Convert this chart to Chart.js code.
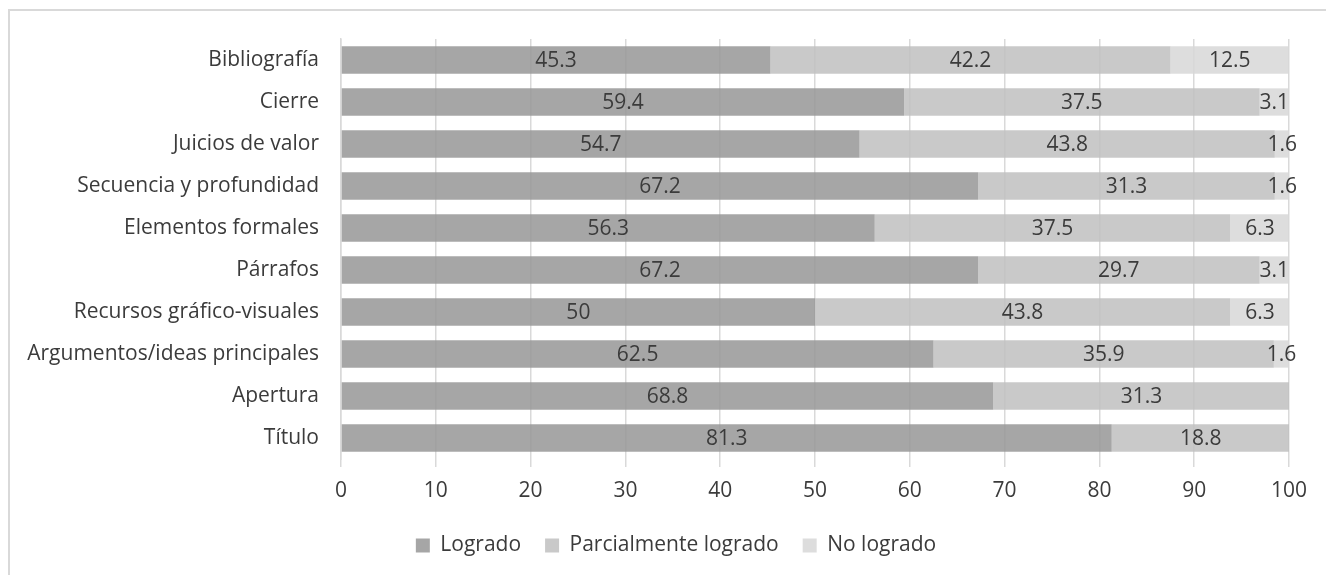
<!DOCTYPE html>
<html>
<head>
<meta charset="utf-8">
<script src="https://cdn.jsdelivr.net/npm/chart.js@4.4.1/dist/chart.umd.min.js"></script>
<style>
  html, body { margin: 0; padding: 0; background: #ffffff; overflow: hidden; }
  #wrap { position: relative; width: 1326px; height: 575px; }
  #frame { position: absolute; left: 8px; top: 9px; width: 1340px; height: 600px;
           border: 2px solid #d9d9d9; box-sizing: border-box; }
  canvas { position: absolute; left: 0; top: 0; }
</style>
</head>
<body>
<div id="wrap">
  <div id="frame"></div>
  <canvas id="chart" width="1326" height="575"></canvas>
</div>
<script>
// Categories, top to bottom
const categories = [
  'Bibliografía',
  'Cierre',
  'Juicios de valor',
  'Secuencia y profundidad',
  'Elementos formales',
  'Párrafos',
  'Recursos gráfico-visuales',
  'Argumentos/ideas principales',
  'Apertura',
  'Título'
];

// Percentages per category
const logrado =      [45.3, 59.4, 54.7, 67.2, 56.3, 67.2, 50,   62.5, 68.8, 81.3];
const parcialmente = [42.2, 37.5, 43.8, 31.3, 37.5, 29.7, 43.8, 35.9, 31.3, 18.8];
const noLogrado =    [12.5, 3.1,  1.6,  1.6,  6.3,  3.1,  6.3,  1.6,  0,    0];

const seriesNames = ['Logrado', 'Parcialmente logrado', 'No logrado'];
const xTicks = [0, 10, 20, 30, 40, 50, 60, 70, 80, 90, 100];

const FONT = '"Open Sans"';
const FS = 21;
const TEXT = '#3b3b3b';
const GRID = '#d9d9d9';

// Writes each segment's value in the middle of its bar
const valueLabels = {
  id: 'valueLabels',
  afterDatasetsDraw(chart) {
    const ctx = chart.ctx;
    ctx.save();
    ctx.font = FS + 'px ' + FONT;
    ctx.fillStyle = TEXT;
    ctx.textAlign = 'center';
    ctx.textBaseline = 'middle';
    chart.data.datasets.forEach((ds, i) => {
      const meta = chart.getDatasetMeta(i);
      meta.data.forEach((bar, j) => {
        const v = ds.data[j];
        if (!v) return;
        const cx = (bar.x + bar.base) / 2;
        ctx.fillText(String(v), cx, bar.y + 1);
      });
    });
    ctx.restore();
  }
};

const chart = new Chart(document.getElementById('chart'), {
  type: 'bar',
  data: {
    labels: categories,
    datasets: [
      { label: seriesNames[0], data: logrado,      backgroundColor: 'rgba(150,150,150,0.85)' },
      { label: seriesNames[1], data: parcialmente, backgroundColor: 'rgba(192,192,192,0.85)' },
      { label: seriesNames[2], data: noLogrado,    backgroundColor: 'rgba(215,215,215,0.85)' }
    ]
  },
  options: {
    indexAxis: 'y',
    responsive: false,
    animation: false,
    devicePixelRatio: 1,
    barPercentage: 0.65,
    categoryPercentage: 1,
    layout: { padding: { left: 26, right: 0, top: 39, bottom: 9 } },
    scales: {
      x: {
        stacked: true,
        min: 0,
        max: 100,
        afterBuildTicks(scale) { scale.ticks = xTicks.map(v => ({ value: v })); },
        afterFit(scale) { scale.height = 52; },
        grid: { color: GRID, lineWidth: 1.5, tickLength: 8, drawOnChartArea: true },
        border: { display: false },
        ticks: { color: TEXT, font: { family: FONT, size: FS }, padding: 11, maxRotation: 0 }
      },
      y: {
        stacked: true,
        afterFit(scale) { scale.width = 315; },
        grid: { display: false, drawTicks: false },
        border: { display: true, color: GRID, width: 1.5 },
        ticks: { color: TEXT, font: { family: FONT, size: FS }, padding: 22 }
      },
      // empty margin on the right of the plot
      yRight: {
        type: 'category',
        position: 'right',
        afterFit(scale) { scale.width = 37; },
        grid: { display: false, drawTicks: false },
        border: { display: false },
        ticks: { display: false }
      }
    },
    plugins: {
      legend: {
        position: 'bottom',
        labels: {
          color: TEXT,
          font: { family: FONT, size: FS },
          boxWidth: 14,
          boxHeight: 14,
          padding: 24
        }
      },
      tooltip: { enabled: false }
    }
  },
  plugins: [valueLabels]
});
</script>
</body>
</html>
